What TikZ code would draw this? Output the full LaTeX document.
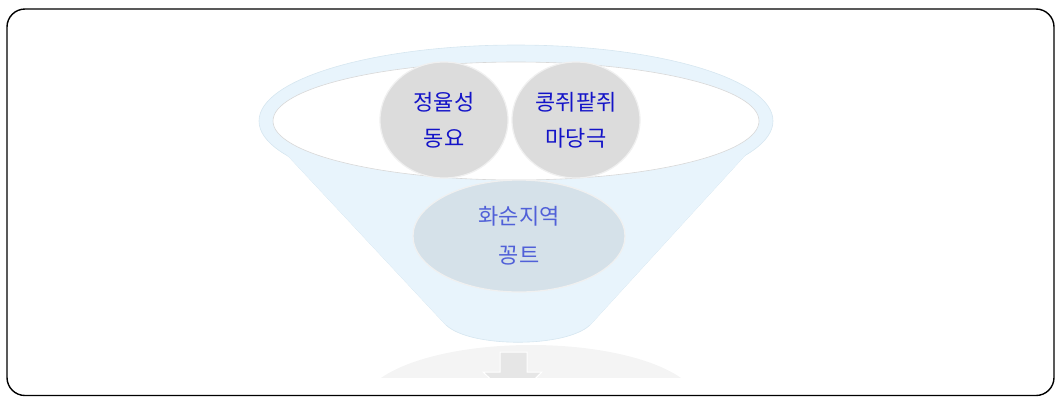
\documentclass[tikz,border=0pt]{standalone}
\usepackage{fontspec}
\setmainfont{Noto Sans CJK KR}
\usetikzlibrary{shapes.geometric}
\definecolor{funnelfill}{HTML}{E8F4FC}
\definecolor{funneledge}{HTML}{D6E6F0}
\definecolor{innerring}{HTML}{D8D8D8}
\definecolor{ballfill}{HTML}{DCDCDC}
\definecolor{ballring}{HTML}{F0F0F0}
\definecolor{blobfill}{HTML}{D5E1E9}
\definecolor{topblue}{HTML}{1414C8}
\definecolor{lowblue}{HTML}{5060D8}
\definecolor{basefill}{HTML}{F4F4F4}
\definecolor{arrowfill}{HTML}{E6E6E6}
\tikzset{
  ball/.style={ellipse, fill=ballfill, draw=ballring, line width=1.2pt, inner sep=0pt,
    minimum width=128, minimum height=116, align=center, text=topblue,
    font=\fontsize{22}{36}\selectfont},
  blob/.style={ellipse, fill=blobfill, draw=ballring, line width=1.2pt, inner sep=0pt,
    minimum width=212, minimum height=112, align=center, text=lowblue,
    font=\fontsize{22}{39}\selectfont},
}
\begin{document}
\begin{tikzpicture}[x=1pt,y=-1pt]
\useasboundingbox (0,0) rectangle (1060,397);
% base and arrow (clipped)
\begin{scope}
  \clip (0,0) rectangle (1060,377);
  \fill[basefill] (531,405) ellipse [x radius=168, y radius=60];
  \fill[arrowfill, draw=white, line width=1pt]
    (500,352) -- (527,352) -- (527,372) -- (542,372) -- (513,400) -- (483,372) -- (500,372) -- cycle;
\end{scope}
% funnel body
\fill[funnelfill, draw=funneledge, line width=0.6pt]
  (262,128) -- (446,325) .. controls (470,348) and (566,348) .. (590,325) -- (770,128) -- cycle;
\fill[funnelfill, draw=funneledge, line width=0.6pt] (516,121) ellipse [x radius=257, y radius=76];
\fill[funnelfill] (262,128) -- (446,325) -- (590,325) -- (770,128) -- cycle;
\fill[white, draw=innerring, line width=0.6pt] (516,121) ellipse [x radius=243, y radius=59];
% balls
\node[ball] (a) at (444,120) {정율성\\동요};
\node[ball] (b) at (576,120) {콩쥐팥쥐\\마당극};
\node[blob] (c) at (519,236) {화순지역\\꽁트};
% frame
\draw[line width=1.4pt, rounded corners=18pt] (7,9) rectangle (1054,395.5);
\end{tikzpicture}
\end{document}
